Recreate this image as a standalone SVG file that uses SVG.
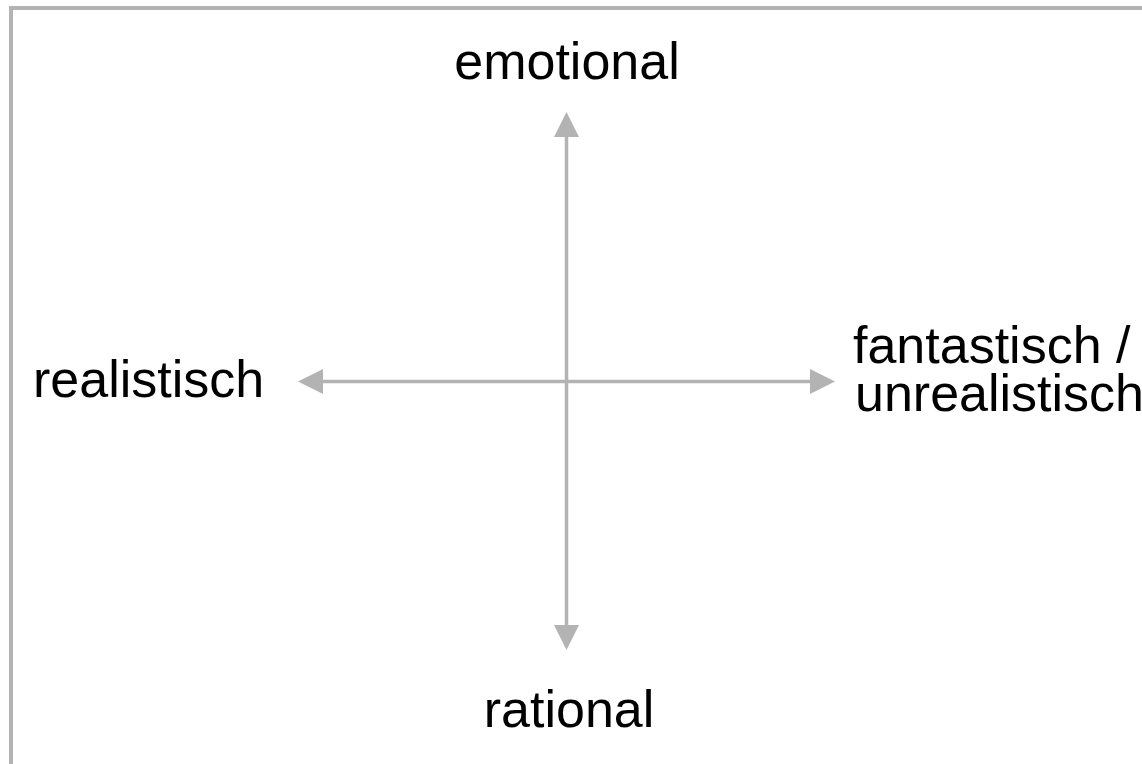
<svg xmlns="http://www.w3.org/2000/svg" width="1142" height="764" viewBox="0 0 1142 764">
<style>
.frame{fill:#ffffff;stroke:#b3b3b3;stroke-width:4}
.axis{stroke:#b3b3b3;stroke-width:3.5;fill:none}
.lbl{font-family:"Liberation Sans",Arial,sans-serif;font-size:52px;fill:#000000}
</style>
<defs>
<marker id="ah" markerUnits="userSpaceOnUse" markerWidth="26" markerHeight="26" viewBox="0 -13 26 26" refX="0" refY="0" orient="auto-start-reverse">
<path d="M0,-12.5 L25,0 L0,12.5 Z" fill="#b3b3b3"/>
</marker>
</defs>
<rect class="frame" x="11" y="8" width="1200" height="800"/>
<g id="connectors">
<line class="axis" x1="566.5" y1="137" x2="566.5" y2="625" marker-start="url(#ah)" marker-end="url(#ah)"/>
<line class="axis" x1="323" y1="381.5" x2="810" y2="381.5" marker-start="url(#ah)" marker-end="url(#ah)"/>
</g>
<g id="emotional"><text class="lbl" x="567" y="79" text-anchor="middle">emotional</text></g>
<g id="rational"><text class="lbl" x="569" y="727" text-anchor="middle">rational</text></g>
<g id="realistisch"><text class="lbl" x="33" y="397">realistisch</text></g>
<g id="fantastisch"><text class="lbl" x="853" y="363">fantastisch /</text><text class="lbl" x="855" y="411">unrealistisch</text></g>
</svg>
